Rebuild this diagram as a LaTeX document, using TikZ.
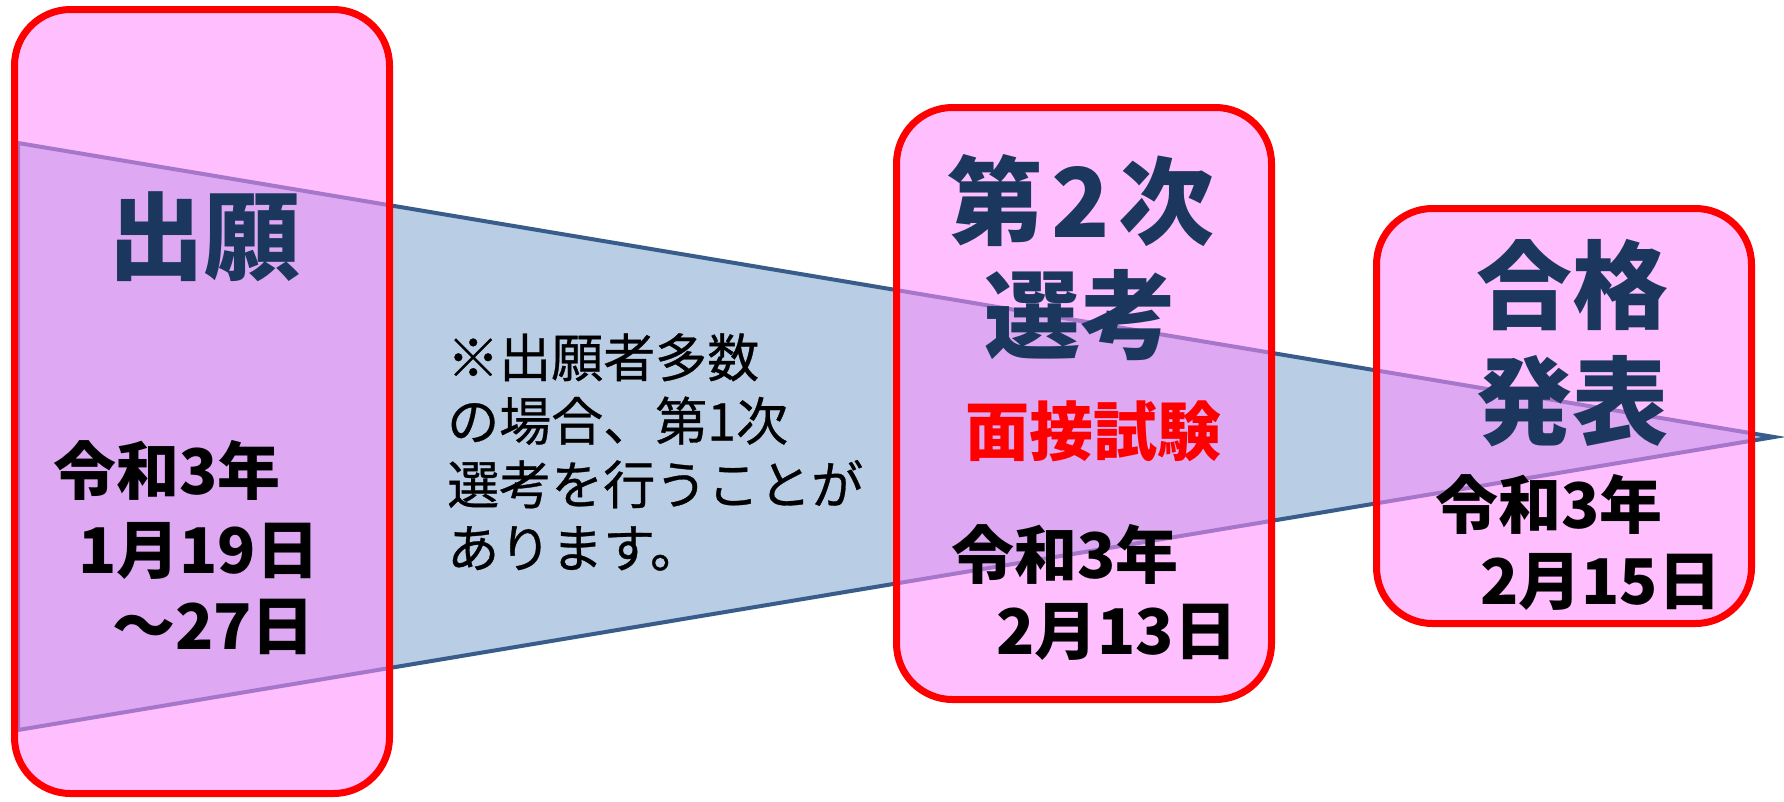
\documentclass[tikz,border=0pt]{standalone}
\usepackage{fontspec}
\newfontfamily\jp{Noto Sans CJK JP}
\newfontfamily\jpnote{Noto Sans CJK JP}[FakeBold=0.6]
\definecolor{navy}{HTML}{1B375E}
\definecolor{wedgefill}{HTML}{B9CDE5}
\definecolor{wedgeline}{HTML}{385D8A}
\definecolor{boxpink}{RGB}{255,139,255}
\definecolor{boxred}{HTML}{FF0000}
\tikzset{
  stagebox/.style={rectangle, draw=boxred, line width=7pt, fill=boxpink, fill opacity=0.55, draw opacity=1, rounded corners=56pt, inner sep=0pt},
  wedge/.style={draw=wedgeline, fill=wedgefill, line width=4pt},
  titletxt/.style={font=\jp\bfseries\fontsize{96}{96}\selectfont, text=navy, inner sep=0pt, anchor=base},
  datetxt/.style={font=\jp\bfseries\fontsize{63}{63}\selectfont, text=black, inner sep=0pt, anchor=base west},
  notetxt/.style={font=\jpnote\fontsize{52}{52}\selectfont, text=black, inner sep=0pt, anchor=base west},
  methodtxt/.style={font=\jp\bfseries\fontsize{64}{64}\selectfont, text=boxred, inner sep=0pt, anchor=base},
}
\begin{document}
\begin{tikzpicture}[x=1pt,y=-1pt]
\useasboundingbox (0,0) rectangle (1784,801);
% wedge
\coordinate (tl) at (18,143);
\coordinate (tip) at (1774,437);
\coordinate (bl) at (18,730);
\draw[wedge] (tl) -- (tip) -- (bl) -- cycle;
% boxes
\node[stagebox, minimum width=375pt, minimum height=784pt] (b1) at (202,401.5) {};
\node[stagebox, minimum width=375pt, minimum height=592pt] (b2) at (1084,403.5) {};
\node[stagebox, minimum width=375pt, minimum height=415pt] (b3) at (1564,416) {};
% box 1 texts
\node[titletxt] (t1) at (204,272) {出願};
\node[datetxt] (d1a) at (53,494) {令和3年};
\node[datetxt] (d1b) at (78,573) {1月19日};
\node[datetxt] (d1c) at (112,649) {～27日};
% note
\node[notetxt] (n1) at (447,377) {※出願者多数};
\node[notetxt] (n2) at (447,440.5) {の場合、第1次};
\node[notetxt] (n3) at (447,504) {選考を行うことが};
\node[notetxt] (n4) at (447,567.5) {あります。};
% box 2 texts
\node[titletxt] (t2a) at (1081,237) {第\kern8pt 2\kern8pt 次};
\node[titletxt] (t2b) at (1080,351) {選考};
\node[methodtxt] (m2) at (1093,455) {面接試験};
\node[datetxt] (d2a) at (951,578) {令和3年};
\node[datetxt] (d2b) at (996,654) {2月13日};
% box 3 texts
\node[titletxt] (t3a) at (1572,321) {合格};
\node[titletxt] (t3b) at (1572,437) {発表};
\node[datetxt] (d3a) at (1435,528) {令和3年};
\node[datetxt] (d3b) at (1480,604) {2月15日};
\end{tikzpicture}
\end{document}
